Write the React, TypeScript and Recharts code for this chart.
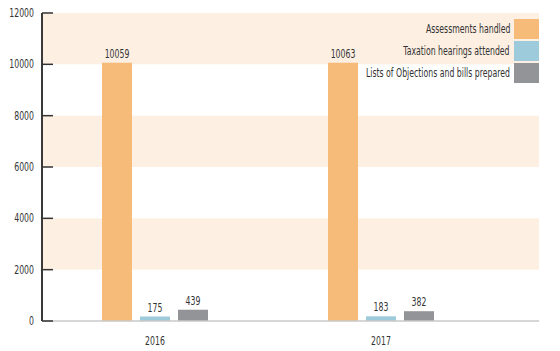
import { BarChart, Bar, XAxis, YAxis, ReferenceArea, LabelList } from "recharts";

const years = ["2016", "2017"];
const assessments = [10059, 10063];
const hearings = [175, 183];
const objections = [439, 382];
const yTicks = [0, 2000, 4000, 6000, 8000, 10000, 12000];
const bands = [
  [2000, 4000],
  [6000, 8000],
  [10000, 12000],
];

const series = [
  { key: "assessments", name: "Assessments handled", color: "#f6bb78" },
  { key: "hearings", name: "Taxation hearings attended", color: "#9ecbdc" },
  { key: "objections", name: "Lists of Objections and bills prepared", color: "#929497" },
];

const data = years.map((y, i) => ({
  year: y,
  assessments: assessments[i],
  hearings: hearings[i],
  objections: objections[i],
}));

const FONT = "'DejaVu Sans Condensed', 'DejaVu Sans', sans-serif";
const SQUEEZE = 0.72;

// narrow text, like the condensed face in the original
function NarrowText({ x, y, anchor, children }: any) {
  return (
    <text
      transform={`translate(${x},${y}) scale(${SQUEEZE},1)`}
      textAnchor={anchor}
      fontSize={12}
      fill="#333"
      fontFamily={FONT}
      style={{ fontStretch: "condensed" }}
    >
      {children}
    </text>
  );
}

function YTick({ x, y, payload }: any) {
  return (
    <g>
      <NarrowText x={x} y={y + 4} anchor="end">{payload.value}</NarrowText>
      <line x1={x + 8} x2={x + 19} y1={y} y2={y} stroke="#333" strokeWidth={1.5} />
    </g>
  );
}

function XTick({ x, y, payload }: any) {
  return <NarrowText x={x} y={y + 8} anchor="middle">{payload.value}</NarrowText>;
}

function BarLabel({ x, y, width, value }: any) {
  return <NarrowText x={x + width / 2} y={y - 5} anchor="middle">{value}</NarrowText>;
}

function Band(p: any) {
  return <rect x={p.x} y={p.y} width={p.width + 45} height={p.height} fill="#fdefe2" />;
}

function LegendBox() {
  return (
    <div style={{ position: "absolute", top: 19, right: 21, fontFamily: FONT, fontStretch: "condensed", fontSize: 12, color: "#333" }}>
      {series.map((s) => (
        <div key={s.key} style={{ display: "flex", justifyContent: "flex-end", alignItems: "center", marginBottom: 2 }}>
          <span style={{ marginRight: 4, display: "inline-block", transform: `scaleX(${SQUEEZE})`, transformOrigin: "right center", whiteSpace: "nowrap" }}>
            {s.name}
          </span>
          <span style={{ display: "inline-block", width: 25, height: 20, background: s.color }} />
        </div>
      ))}
    </div>
  );
}

export default function App() {
  return (
    <div style={{ position: "absolute", left: 0, top: 0, width: 560, height: 351, background: "#fff" }}>
      <BarChart
        width={560}
        height={351}
        data={data}
        margin={{ top: 13, right: 21, left: 0, bottom: 0 }}
        barSize={30}
        barGap={8}
        barCategoryGap={60}
      >
        {bands.map(([a, b]) => (
          <ReferenceArea key={a} y1={a} y2={b} shape={<Band />} ifOverflow="visible" />
        ))}
        <XAxis
          dataKey="year"
          padding={{ left: 0, right: 45 }}
          tickLine={false}
          axisLine={{ stroke: "#c8c8c8", strokeWidth: 1.5 }}
          tick={<XTick />}
          tickMargin={10}
          height={30}
        />
        <YAxis
          width={42}
          domain={[0, 12000]}
          ticks={yTicks}
          interval={0}
          tickSize={0}
          tickMargin={8}
          tickLine={false}
          axisLine={{ stroke: "#3a3a3a", strokeWidth: 2 }}
          tick={<YTick />}
        />
        {series.map((s) => (
          <Bar key={s.key} dataKey={s.key} name={s.name} fill={s.color} isAnimationActive={false}>
            <LabelList dataKey={s.key} content={<BarLabel />} />
          </Bar>
        ))}
      </BarChart>
      <LegendBox />
    </div>
  );
}
